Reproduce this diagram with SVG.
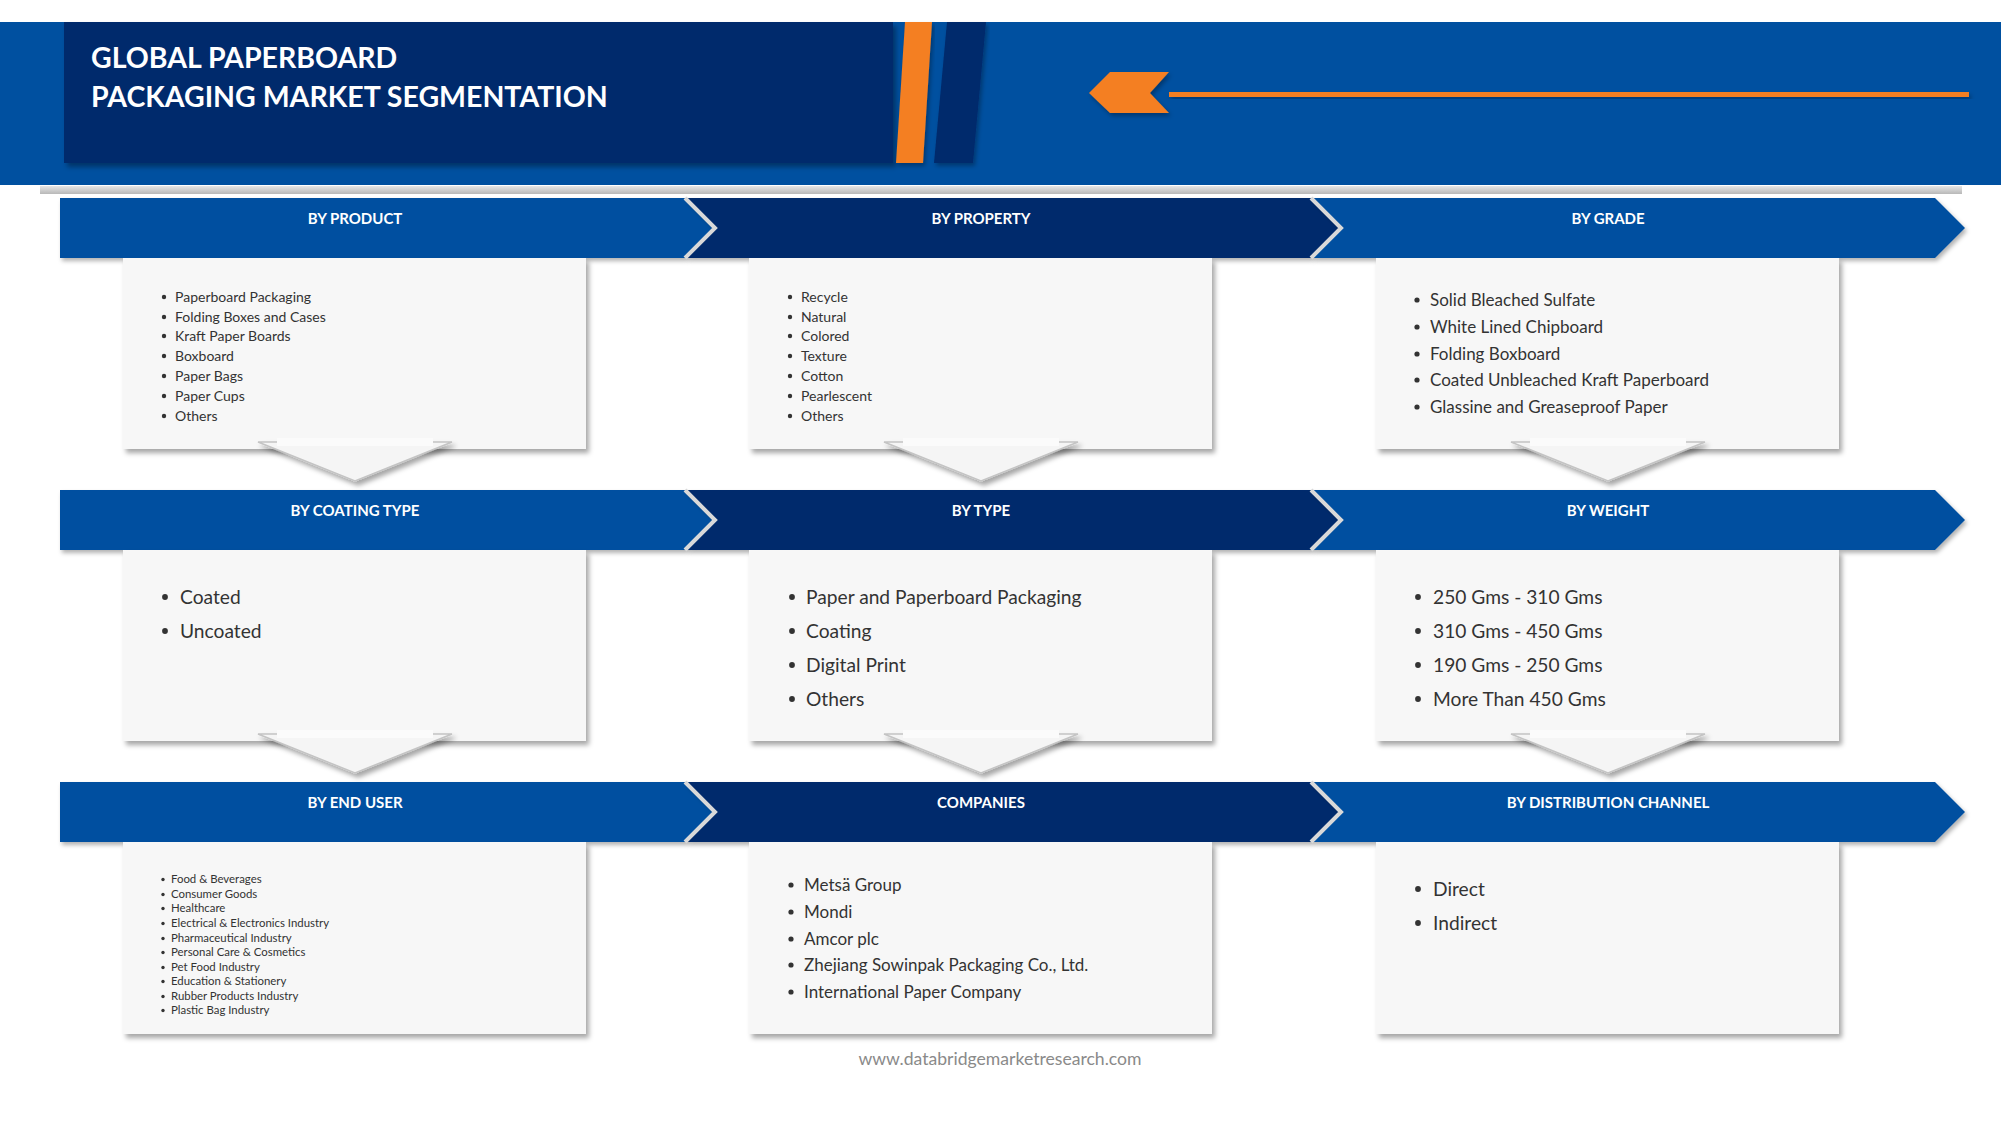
<svg xmlns="http://www.w3.org/2000/svg" width="2001" height="1125" viewBox="0 0 2001 1125">
<defs>
<style>
.ttl{font-family:Lato,"Liberation Sans",sans-serif;font-weight:bold;font-size:28.5px;fill:#ffffff}
.bh{font-family:Lato,"Liberation Sans",sans-serif;font-weight:bold;font-size:15px;fill:#ffffff;text-anchor:middle}
.it{font-family:Lato,"Liberation Sans",sans-serif;fill:#333333}
.s11{font-size:11.4px}.s14{font-size:14px}.s17{font-size:17px}.s20{font-size:19.2px}
.blue{fill:#0050a0}.navy{fill:#002a6c}
.box{fill:#f7f7f7}
.sep{fill:none;stroke:#d9d9d9;stroke-width:4}
.tri{fill:#f5f5f5;stroke:#c4c4c4;stroke-width:1.5}
.dot{fill:#333333}
.foot{font-family:Lato,"Liberation Sans",sans-serif;font-size:17.6px;fill:#8a8a8a;text-anchor:middle}
</style>
<filter id="sh" x="-5%" y="-10%" width="112%" height="130%">
<feDropShadow dx="3" dy="4" stdDeviation="2.5" flood-color="#000000" flood-opacity="0.35"/>
</filter>
<filter id="shs" x="-5%" y="-10%" width="112%" height="140%">
<feDropShadow dx="2" dy="3" stdDeviation="2" flood-color="#000000" flood-opacity="0.3"/>
</filter>
<linearGradient id="gl" x1="0" y1="0" x2="0" y2="1">
<stop offset="0" stop-color="#e6e6e6"/><stop offset="1" stop-color="#b8b8b8"/>
</linearGradient>
</defs>
<rect width="2001" height="1125" fill="#ffffff"/>

<g id="header">
<rect x="40" y="186" width="1922" height="8" fill="url(#gl)"/>
<rect x="0" y="22" width="2001" height="163" fill="#0050a0"/>
<rect x="64" y="22" width="829" height="141" fill="#002a6c" filter="url(#sh)"/>
<polygon points="905,22 932,22 923,163 896,163" fill="#f47f20" filter="url(#shs)"/>
<polygon points="947,22 986,22 973,163 934,163" fill="#002a6c" filter="url(#shs)"/>
<text class="ttl" x="91" y="68">GLOBAL PAPERBOARD</text>
<text class="ttl" x="91" y="107">PACKAGING MARKET SEGMENTATION</text>
<polygon points="1089,93 1110,72 1169,72 1150,93 1169,113 1110,113" fill="#f47f20" filter="url(#shs)"/>
<rect x="1169" y="92" width="800" height="5" fill="#f47f20" filter="url(#shs)"/>
</g>

<!-- Row 1 -->
<g id="by-product">
<polygon class="blue" filter="url(#shs)" points="60,198 685,198 715,228 685,258 60,258"/>
<rect class="box" filter="url(#sh)" x="123" y="258" width="463" height="191"/>
<text class="bh" x="355" y="224">BY PRODUCT</text>
<g class="it s14">
<text x="175" y="302">Paperboard Packaging</text>
<text x="175" y="322">Folding Boxes and Cases</text>
<text x="175" y="341">Kraft Paper Boards</text>
<text x="175" y="361">Boxboard</text>
<text x="175" y="381">Paper Bags</text>
<text x="175" y="401">Paper Cups</text>
<text x="175" y="421">Others</text>
</g>
<g class="dot"><circle cx="164" cy="297" r="2.2"/><circle cx="164" cy="317" r="2.2"/><circle cx="164" cy="336" r="2.2"/><circle cx="164" cy="356" r="2.2"/><circle cx="164" cy="376" r="2.2"/><circle cx="164" cy="396" r="2.2"/><circle cx="164" cy="416" r="2.2"/></g>
</g>

<g id="by-property">
<polygon class="navy" filter="url(#shs)" points="685,198 1311,198 1341,228 1311,258 685,258 715,228"/>
<rect class="box" filter="url(#sh)" x="749" y="258" width="463" height="191"/>
<text class="bh" x="981" y="224">BY PROPERTY</text>
<g class="it s14">
<text x="801" y="302">Recycle</text>
<text x="801" y="322">Natural</text>
<text x="801" y="341">Colored</text>
<text x="801" y="361">Texture</text>
<text x="801" y="381">Cotton</text>
<text x="801" y="401">Pearlescent</text>
<text x="801" y="421">Others</text>
</g>
<g class="dot"><circle cx="790" cy="297" r="2.2"/><circle cx="790" cy="317" r="2.2"/><circle cx="790" cy="336" r="2.2"/><circle cx="790" cy="356" r="2.2"/><circle cx="790" cy="376" r="2.2"/><circle cx="790" cy="396" r="2.2"/><circle cx="790" cy="416" r="2.2"/></g>
</g>

<g id="by-grade">
<polygon class="blue" filter="url(#shs)" points="1311,198 1935,198 1965,228 1935,258 1311,258 1341,228"/>
<rect class="box" filter="url(#sh)" x="1376" y="258" width="463" height="191"/>
<text class="bh" x="1608" y="224">BY GRADE</text>
<g class="it s17">
<text x="1430" y="306">Solid Bleached Sulfate</text>
<text x="1430" y="333">White Lined Chipboard</text>
<text x="1430" y="360">Folding Boxboard</text>
<text x="1430" y="386">Coated Unbleached Kraft Paperboard</text>
<text x="1430" y="413">Glassine and Greaseproof Paper</text>
</g>
<g class="dot"><circle cx="1417" cy="300" r="2.6"/><circle cx="1417" cy="327" r="2.6"/><circle cx="1417" cy="354" r="2.6"/><circle cx="1417" cy="380" r="2.6"/><circle cx="1417" cy="407" r="2.6"/></g>
</g>
<polyline class="sep" points="685,198 715,228 685,258"/>
<polyline class="sep" points="1311,198 1341,228 1311,258"/>

<!-- Row 2 -->
<g id="by-coating-type">
<polygon class="blue" filter="url(#shs)" points="60,490 685,490 715,520 685,550 60,550"/>
<rect class="box" filter="url(#sh)" x="123" y="550" width="463" height="191"/>
<text class="bh" x="355" y="516">BY COATING TYPE</text>
<g class="it s20">
<text x="180" y="604">Coated</text>
<text x="180" y="638">Uncoated</text>
</g>
<g class="dot"><circle cx="165" cy="597" r="2.9"/><circle cx="165" cy="631" r="2.9"/></g>
</g>

<g id="by-type">
<polygon class="navy" filter="url(#shs)" points="685,490 1311,490 1341,520 1311,550 685,550 715,520"/>
<rect class="box" filter="url(#sh)" x="749" y="550" width="463" height="191"/>
<text class="bh" x="981" y="516">BY TYPE</text>
<g class="it s20">
<text x="806" y="604">Paper and Paperboard Packaging</text>
<text x="806" y="638">Coating</text>
<text x="806" y="672">Digital Print</text>
<text x="806" y="706">Others</text>
</g>
<g class="dot"><circle cx="792" cy="597" r="2.9"/><circle cx="792" cy="631" r="2.9"/><circle cx="792" cy="665" r="2.9"/><circle cx="792" cy="699" r="2.9"/></g>
</g>

<g id="by-weight">
<polygon class="blue" filter="url(#shs)" points="1311,490 1935,490 1965,520 1935,550 1311,550 1341,520"/>
<rect class="box" filter="url(#sh)" x="1376" y="550" width="463" height="191"/>
<text class="bh" x="1608" y="516">BY WEIGHT</text>
<g class="it s20">
<text x="1433" y="604">250 Gms - 310 Gms</text>
<text x="1433" y="638">310 Gms - 450 Gms</text>
<text x="1433" y="672">190 Gms - 250 Gms</text>
<text x="1433" y="706">More Than 450 Gms</text>
</g>
<g class="dot"><circle cx="1418" cy="597" r="2.9"/><circle cx="1418" cy="631" r="2.9"/><circle cx="1418" cy="665" r="2.9"/><circle cx="1418" cy="699" r="2.9"/></g>
</g>
<polyline class="sep" points="685,490 715,520 685,550"/>
<polyline class="sep" points="1311,490 1341,520 1311,550"/>

<!-- Row 3 -->
<g id="by-end-user">
<polygon class="blue" filter="url(#shs)" points="60,782 685,782 715,812 685,842 60,842"/>
<rect class="box" filter="url(#sh)" x="123" y="842" width="463" height="192"/>
<text class="bh" x="355" y="808">BY END USER</text>
<g class="it s11">
<text x="171" y="883">Food &amp; Beverages</text>
<text x="171" y="898">Consumer Goods</text>
<text x="171" y="912">Healthcare</text>
<text x="171" y="927">Electrical &amp; Electronics Industry</text>
<text x="171" y="942">Pharmaceutical Industry</text>
<text x="171" y="956">Personal Care &amp; Cosmetics</text>
<text x="171" y="971">Pet Food Industry</text>
<text x="171" y="985">Education &amp; Stationery</text>
<text x="171" y="1000">Rubber Products Industry</text>
<text x="171" y="1014">Plastic Bag Industry</text>
</g>
<g class="dot"><circle cx="163" cy="879.5" r="1.7"/><circle cx="163" cy="894.5" r="1.7"/><circle cx="163" cy="908.5" r="1.7"/><circle cx="163" cy="923.5" r="1.7"/><circle cx="163" cy="938.5" r="1.7"/><circle cx="163" cy="952.5" r="1.7"/><circle cx="163" cy="967.5" r="1.7"/><circle cx="163" cy="981.5" r="1.7"/><circle cx="163" cy="996.5" r="1.7"/><circle cx="163" cy="1010.5" r="1.7"/></g>
</g>

<g id="companies">
<polygon class="navy" filter="url(#shs)" points="685,782 1311,782 1341,812 1311,842 685,842 715,812"/>
<rect class="box" filter="url(#sh)" x="749" y="842" width="463" height="192"/>
<text class="bh" x="981" y="808">COMPANIES</text>
<g class="it s17">
<text x="804" y="891">Metsä Group</text>
<text x="804" y="918">Mondi</text>
<text x="804" y="945">Amcor plc</text>
<text x="804" y="971">Zhejiang Sowinpak Packaging Co., Ltd.</text>
<text x="804" y="998">International Paper Company</text>
</g>
<g class="dot"><circle cx="791" cy="885" r="2.6"/><circle cx="791" cy="912" r="2.6"/><circle cx="791" cy="939" r="2.6"/><circle cx="791" cy="965" r="2.6"/><circle cx="791" cy="992" r="2.6"/></g>
</g>

<g id="by-distribution-channel">
<polygon class="blue" filter="url(#shs)" points="1311,782 1935,782 1965,812 1935,842 1311,842 1341,812"/>
<rect class="box" filter="url(#sh)" x="1376" y="842" width="463" height="192"/>
<text class="bh" x="1608" y="808">BY DISTRIBUTION CHANNEL</text>
<g class="it s20">
<text x="1433" y="896">Direct</text>
<text x="1433" y="930">Indirect</text>
</g>
<g class="dot"><circle cx="1418" cy="889" r="2.9"/><circle cx="1418" cy="923" r="2.9"/></g>
</g>
<polyline class="sep" points="685,782 715,812 685,842"/>
<polyline class="sep" points="1311,782 1341,812 1311,842"/>

<g id="connectors">
<g filter="url(#sh)">
<polygon points="258,442 452,442 355,481" class="tri"/>
<polygon points="884,442 1078,442 981,481" class="tri"/>
<polygon points="1511,442 1705,442 1608,481" class="tri"/>
<polygon points="258,734 452,734 355,773" class="tri"/>
<polygon points="884,734 1078,734 981,773" class="tri"/>
<polygon points="1511,734 1705,734 1608,773" class="tri"/>
</g>
<rect x="277" y="438" width="156" height="8" fill="#fbfbfb"/>
<rect x="903" y="438" width="156" height="8" fill="#fbfbfb"/>
<rect x="1530" y="438" width="156" height="8" fill="#fbfbfb"/>
<rect x="277" y="730" width="156" height="8" fill="#fbfbfb"/>
<rect x="903" y="730" width="156" height="8" fill="#fbfbfb"/>
<rect x="1530" y="730" width="156" height="8" fill="#fbfbfb"/>
</g>

<text class="foot" x="1000" y="1065">www.databridgemarketresearch.com</text>
</svg>
